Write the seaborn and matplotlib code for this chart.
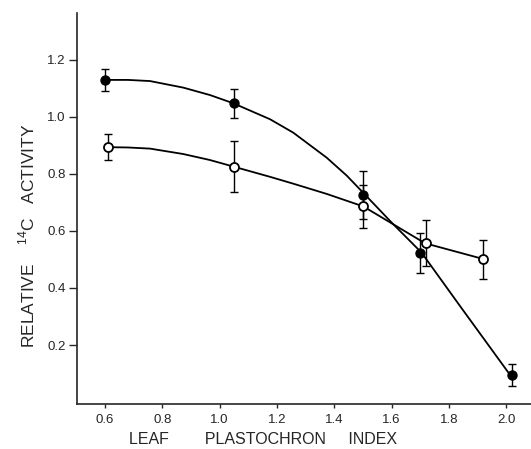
import matplotlib
matplotlib.use("Agg")
import matplotlib.pyplot as plt
import seaborn as sns

# ---- data ----
lpi_filled = [0.60, 1.05, 1.50, 1.70, 2.02]
act_filled = [1.13, 1.048, 0.727, 0.524, 0.095]
err_filled = [0.04, 0.05, 0.085, 0.07, 0.04]

lpi_open = [0.61, 1.05, 1.50, 1.72, 1.92]
act_open = [0.894, 0.826, 0.686, 0.557, 0.501]
err_open = [0.045, 0.09, 0.075, 0.08, 0.068]

# fitted curves
curve_filled_x = [0.606, 0.680, 0.757, 0.873, 0.966, 1.048, 1.176, 1.257, 1.374, 1.444, 1.508, 1.600, 1.705, 1.839, 2.014]
curve_filled_y = [1.130, 1.130, 1.126, 1.103, 1.077, 1.048, 0.992, 0.945, 0.857, 0.794, 0.727, 0.630, 0.524, 0.337, 0.095]
curve_open_x = [0.610, 0.680, 0.757, 0.873, 0.966, 1.048, 1.176, 1.257, 1.374, 1.502, 1.717, 1.923]
curve_open_y = [0.894, 0.893, 0.889, 0.870, 0.849, 0.826, 0.790, 0.766, 0.730, 0.686, 0.557, 0.501]

x_ticks = [0.6, 0.8, 1.0, 1.2, 1.4, 1.6, 1.8, 2.0]
y_ticks = [0.2, 0.4, 0.6, 0.8, 1.0, 1.2]

sns.set_style("ticks")
plt.rcParams['font.family'] = ['Liberation Sans', 'DejaVu Sans']
plt.rcParams['mathtext.fontset'] = 'custom'
plt.rcParams['mathtext.rm'] = 'Liberation Sans'

fig = plt.figure(figsize=(5.31, 4.49), dpi=100)
ax = fig.add_axes([0.145, 0.1002, 0.855, 0.871])

sns.lineplot(x=curve_filled_x, y=curve_filled_y, sort=False, estimator=None,
             color='black', linewidth=1.3, ax=ax)
sns.lineplot(x=curve_open_x, y=curve_open_y, sort=False, estimator=None,
             color='black', linewidth=1.3, ax=ax)

ax.errorbar(lpi_filled, act_filled, yerr=err_filled, fmt='none', ecolor='black',
            elinewidth=1.0, capsize=3.0, capthick=1.0, zorder=3)
ax.errorbar(lpi_open, act_open, yerr=err_open, fmt='none', ecolor='black',
            elinewidth=1.0, capsize=3.0, capthick=1.0, zorder=3)

sns.scatterplot(x=lpi_filled, y=act_filled, color='black', edgecolor='black',
                s=42, linewidth=1.0, zorder=5, ax=ax)
sns.scatterplot(x=lpi_open, y=act_open, color='white', edgecolor='black',
                s=42, linewidth=1.3, zorder=5, ax=ax)

ax.set_xlim(0.502, 2.087)
ax.set_ylim(-0.007, 1.365)
ax.set_xticks(x_ticks)
ax.set_yticks(y_ticks)
ax.set_xticklabels([f"{t:.1f}" for t in x_ticks])
ax.set_yticklabels([f"{t:.1f}" for t in y_ticks])
ax.tick_params(axis='x', direction='out', length=3, width=1.0, labelsize=9.5, pad=4)
ax.tick_params(axis='y', direction='out', length=6, width=1.0, labelsize=9.5, pad=2)
for s in ['top', 'right']:
    ax.spines[s].set_visible(False)
for s in ['left', 'bottom']:
    ax.spines[s].set_linewidth(1.2)
ax.set_xlabel('')
ax.set_ylabel('')

fig.text(263/531, 1 - 440/449, 'LEAF        PLASTOCHRON     INDEX',
         ha='center', va='center', fontsize=11.5)
fig.text(27/531, 1 - 236/449, r'RELATIVE    $^{14}$C   ACTIVITY',
         ha='center', va='center', rotation=90, fontsize=12.5)

fig.savefig('out.png', dpi=100)
